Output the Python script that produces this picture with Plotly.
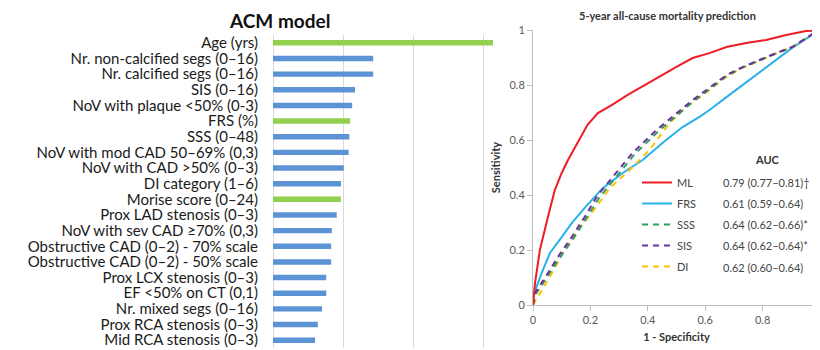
import plotly.graph_objects as go

# ---------------- Left panel: feature importance (ACM model) ----------------
features = [
    "Age (yrs)", "Nr. non-calcified segs (0–16)", "Nr. calcified segs (0–16)",
    "SIS (0–16)", "NoV with plaque <50% (0-3)", "FRS (%)", "SSS (0–48)",
    "NoV with mod CAD 50–69% (0,3)", "NoV with CAD >50% (0–3)", "DI category (1–6)",
    "Morise score (0–24)", "Prox LAD stenosis (0–3)", "NoV with sev CAD ≥70% (0,3)",
    "Obstructive CAD (0–2) - 70% scale", "Obstructive CAD (0–2) - 50% scale",
    "Prox LCX stenosis (0–3)", "EF <50% on CT (0,1)", "Nr. mixed segs (0–16)",
    "Prox RCA stenosis (0–3)", "Mid RCA stenosis (0–3)",
]
importance = [3.20, 1.43, 1.43, 1.17, 1.13, 1.10, 1.09, 1.08, 1.01, 0.97,
              0.97, 0.91, 0.84, 0.83, 0.83, 0.76, 0.76, 0.70, 0.64, 0.60]
clinical = ["Age (yrs)", "FRS (%)", "Morise score (0–24)"]

# ---------------- Right panel: ROC curves ----------------
ml_fpr = [0, 0.007, 0.024, 0.042, 0.052, 0.076, 0.10, 0.122, 0.156, 0.19, 0.226, 0.274,
          0.33, 0.389, 0.448, 0.50, 0.556, 0.615, 0.674, 0.743, 0.8125, 0.882, 0.951, 0.99, 1.0]
ml_tpr = [0, 0.08, 0.20, 0.284, 0.32, 0.418, 0.48, 0.527, 0.590, 0.655, 0.698, 0.727,
          0.764, 0.80, 0.836, 0.866, 0.898, 0.916, 0.938, 0.953, 0.964, 0.982, 0.996, 1.0, 1.0]

frs_fpr = [0, 0.003, 0.03, 0.059, 0.10, 0.135, 0.18, 0.243, 0.3125, 0.382, 0.451, 0.521,
           0.58, 0.615, 0.674, 0.73, 0.788, 0.847, 0.903, 0.962, 0.99, 1.0]
frs_tpr = [0, 0.04, 0.116, 0.189, 0.247, 0.298, 0.353, 0.425, 0.48, 0.527, 0.589, 0.647,
           0.684, 0.709, 0.756, 0.80, 0.847, 0.891, 0.935, 0.975, 0.996, 1.0]

sis_fpr = [0, 0.007, 0.042, 0.087, 0.135, 0.18, 0.226, 0.278, 0.347, 0.43, 0.50, 0.556,
           0.604, 0.674, 0.73, 0.788, 0.847, 0.903, 0.95, 0.99, 1.0]
sis_tpr = [0, 0.044, 0.10, 0.175, 0.247, 0.32, 0.40, 0.465, 0.553, 0.636, 0.698, 0.745,
           0.782, 0.836, 0.865, 0.891, 0.916, 0.938, 0.971, 0.996, 1.0]

sss_fpr = [0, 0.010, 0.046, 0.092, 0.140, 0.185, 0.232, 0.284, 0.352, 0.435, 0.505, 0.560,
           0.608, 0.676, 0.73, 0.788, 0.847, 0.903, 0.95, 0.99, 1.0]
sss_tpr = [0, 0.040, 0.097, 0.170, 0.240, 0.312, 0.392, 0.458, 0.546, 0.630, 0.694, 0.742,
           0.779, 0.834, 0.864, 0.890, 0.915, 0.937, 0.970, 0.996, 1.0]

di_fpr = [0, 0.017, 0.066, 0.11, 0.156, 0.205, 0.267, 0.337, 0.406, 0.476, 0.535, 0.60,
          0.674, 0.73, 0.788, 0.847, 0.903, 0.95, 0.99, 1.0]
di_tpr = [0, 0.03, 0.116, 0.20, 0.273, 0.335, 0.425, 0.491, 0.564, 0.662, 0.72, 0.77,
          0.83, 0.862, 0.889, 0.914, 0.937, 0.97, 0.996, 1.0]

roc_names = ["ML", "FRS", "SSS", "SIS", "DI"]
roc_auc = ["0.79 (0.77–0.81)†", "0.61 (0.59–0.64)", "0.64 (0.62–0.66)*",
           "0.64 (0.62–0.64)*", "0.62 (0.60–0.64)"]
roc_colors = ["#EE1C25", "#27B2E8", "#2E9E62", "#7030A0", "#FFC000"]
roc_dash = ["solid", "solid", "6px,5px", "6px,5px", "6px,5px"]
roc_x = [ml_fpr, frs_fpr, sss_fpr, sis_fpr, di_fpr]
roc_y = [ml_tpr, frs_tpr, sss_tpr, sis_tpr, di_tpr]

FONT = "Lato, 'Open Sans', sans-serif"

# The page body has an 8px default margin: the figure is drawn from (8, 8).
OFF = 8
W, H = 820 - OFF, 350 - OFF


def px(x):
    return (x - OFF) / W


def py(y):
    return 1 - (y - OFF) / H


fig = go.Figure()

bar_colors = ["#92D050" if f in clinical else "#5B93D5" for f in features]
fig.add_trace(go.Bar(
    x=importance, y=features, orientation="h", marker=dict(color=bar_colors, line=dict(width=0)),
    width=0.35, showlegend=False, xaxis="x", yaxis="y", hoverinfo="x+y",
))

# draw order so that ML is on top
order = [1, 4, 2, 3, 0]
for i in order:
    fig.add_trace(go.Scatter(
        x=roc_x[i], y=roc_y[i], mode="lines", name=roc_names[i],
        line=dict(color=roc_colors[i], width=2, dash=roc_dash[i]),
        xaxis="x2", yaxis="y2", legendgroup=roc_names[i], legendrank=i + 1,
        showlegend=True,
    ))

fig.update_layout(
    width=W, height=H,
    margin=dict(l=0, r=0, t=0, b=0, autoexpand=False),
    paper_bgcolor="white", plot_bgcolor="white",
    font=dict(family=FONT, color="#222222"),
    xaxis=dict(
        domain=[px(273), px(493)], range=[0, 3.14], dtick=1, showticklabels=False,
        showgrid=True, gridcolor="#D9D9D9", gridwidth=1, zeroline=True,
        zerolinecolor="#D9D9D9", zerolinewidth=1, showline=False, fixedrange=True,
        automargin=False,
    ),
    yaxis=dict(
        domain=[py(348), py(35)], autorange="reversed", type="category",
        tickmode="array", tickvals=features, ticktext=features,
        tickfont=dict(size=15, color="#1a1a1a", family=FONT), showgrid=False,
        ticks="", ticklabelstandoff=14, showline=False, zeroline=False, automargin=False,
    ),
    xaxis2=dict(
        domain=[px(533), 1.0], range=[0, 1], anchor="y2", tickvals=[0, 0.2, 0.4, 0.6, 0.8, 1],
        ticktext=["0", "0.2", "0.4", "0.6", "0.8", "1"],
        showline=True, linecolor="#BFBFBF", linewidth=1, ticks="outside", ticklen=5,
        tickcolor="#BFBFBF", showgrid=False, zeroline=False, automargin=False,
        tickfont=dict(size=11, color="#595959", family=FONT),
        title=dict(text="<b>1 - Specificity</b>", font=dict(size=11, color="#333333"), standoff=8),
    ),
    yaxis2=dict(
        domain=[py(305), py(30)], range=[0, 1], anchor="x2",
        tickvals=[0, 0.2, 0.4, 0.6, 0.8, 1], ticktext=["0", "0.2", "0.4", "0.6", "0.8", "1"],
        showline=True, linecolor="#BFBFBF", linewidth=1, ticks="outside", ticklen=5,
        tickcolor="#BFBFBF", showgrid=False, zeroline=False, automargin=False,
        tickfont=dict(size=11, color="#595959", family=FONT),
        title=dict(text="<b>Sensitivity</b>", font=dict(size=11, color="#333333"), standoff=6),
    ),
    legend=dict(
        x=px(637), y=py(168), xanchor="left", yanchor="top",
        font=dict(size=11, color="#444444", family=FONT), bgcolor="rgba(0,0,0,0)",
        tracegroupgap=2, traceorder="grouped", itemclick=False, itemdoubleclick=False,
    ),
    showlegend=True,
)

annotations = [
    dict(text="<b>ACM model</b>", x=px(279), y=py(20), xref="paper", yref="paper",
         showarrow=False, font=dict(size=19, color="#111111", family=FONT),
         xanchor="center", yanchor="middle"),
    dict(text="<b>5-year all-cause mortality prediction</b>", x=px(667), y=py(15),
         xref="paper", yref="paper", showarrow=False,
         font=dict(size=11, color="#333333", family=FONT), xanchor="center", yanchor="middle"),
    dict(text="<b>AUC</b>", x=px(767), y=py(159), xref="paper", yref="paper",
         showarrow=False, font=dict(size=11, color="#333333", family=FONT),
         xanchor="center", yanchor="middle"),
]
for k, txt in enumerate(roc_auc):
    annotations.append(dict(
        text=txt, x=px(721), y=py(182 + 21.3 * k), xref="paper", yref="paper",
        showarrow=False, font=dict(size=11, color="#444444", family=FONT),
        xanchor="left", yanchor="middle"))
fig.update_layout(annotations=annotations)

fig.write_html("out.html")
